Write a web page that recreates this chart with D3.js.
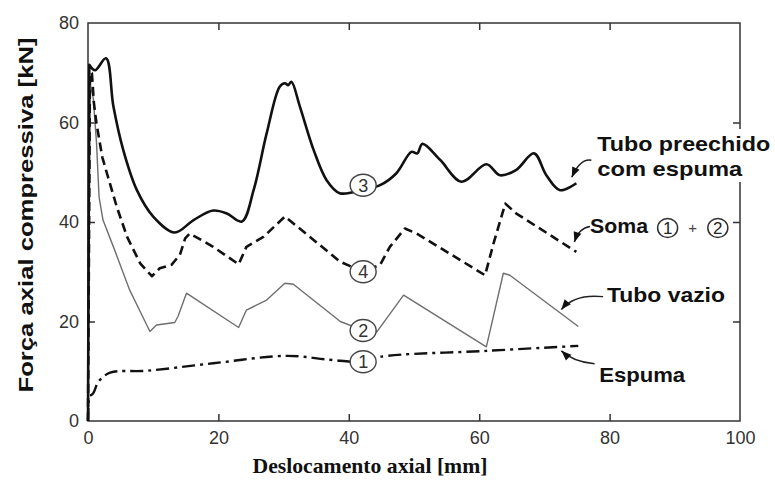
<!DOCTYPE html>
<html>
<head>
<meta charset="utf-8">
<script src="https://cdn.jsdelivr.net/npm/d3@7"></script>
<style>
  body { margin: 0; background: #fff; }
  svg { display: block; }
</style>
</head>
<body>
<svg id="chart" width="775" height="480"></svg>
<script>
// Axis ticks
const xTicks = [0, 20, 40, 60, 80, 100];
const yTicks = [0, 20, 40, 60, 80];

// Force [kN] versus axial displacement [mm]
// (1) foam alone
const espuma = [[0,0],[0.1,4.9],[0.8,5.6],[1.6,7.9],[3.4,9.7],[9,10.1],[19.2,11.6],[30.5,13.1],[37.1,12.3],[42.2,11.9],[44.8,12.9],[61.1,14.1],[75.2,15.1]];
// (2) empty tube
const tuboVazio = [[0,0],[0.3,68],[0.8,65],[1.3,56],[1.7,45],[2.3,40.4],[3.9,35],[6.4,26.3],[8,22],[9.5,18],[10.5,19.3],[13.3,19.8],[13.8,21],[15.1,25.7],[23.1,18.8],[24.3,22.3],[27.4,24.3],[30.2,27.7],[31.5,27.5],[38.7,20],[42.2,18.2],[44.3,17.9],[48.4,25.3],[61.1,14.9],[63.7,29.7],[64.7,29.3],[75.2,19]];
// (3) foam-filled tube
const tuboPreenchido = [[0,0],[0.2,71.6],[1.07,70.5],[2.76,72.9],[3.9,63.2],[5.4,54.5],[7.5,46.4],[10,41.1],[13.3,37.9],[16.2,40.4],[19.2,42.3],[21.3,41.7],[23.6,40.1],[25.4,46.4],[27.4,57.8],[29.4,67.2],[30.2,67.9],[30.7,67.5],[31.2,68.2],[32.5,63.2],[34.6,54.5],[36.6,48.4],[38.6,45.8],[42.2,46.5],[44.8,47.4],[47.3,49.8],[49.6,54.1],[50.5,53.8],[51.3,55.7],[54,52.5],[57.3,48.1],[61.1,51.6],[63.2,49.4],[65.7,50.5],[68.4,53.8],[70.3,49.4],[72.4,46.4],[74.9,47.8]];
// (4) sum (1) + (2)
const soma = [[0,0],[0.3,70],[0.6,69.9],[0.9,64],[1.3,59.8],[2.2,53],[2.9,49.8],[4.4,43.1],[6,37],[8,31.7],[9.8,29.1],[11,30.7],[12.8,31.4],[14.1,33.4],[14.9,36.7],[15.6,37.7],[19.2,35],[23.1,31.5],[24.3,35],[26.9,37],[30.2,41.1],[34.6,36.4],[38.7,32],[42.2,30],[44.8,31.4],[46.3,35],[48.6,38.7],[50.4,37.7],[60.9,29.3],[62.2,35.7],[64,43.7],[65.7,41.7],[74.9,34]];

// Circled curve numbers: [label, x, y]
const curveTags = [["3",42.2,47.4],["4",42.2,30.0],["2",42.2,18.2],["1",42.2,11.9]];

// Callouts: text lines, text anchor point, arrow start / control / tip (data units)
const callouts = [
  { lines: ["Tubo preechido", "com espuma"], at: [78.1, 54.3], len: [173, 145], from: [77.2, 52.4], ctrl: [75.5, 52.8], tip: [74.2, 49.0] },
  { lines: ["Soma"], at: [77.0, 37.8], len: [58], from: [77.0, 39.1], ctrl: [75.3, 38.8], tip: [74.6, 36.0] },
  { lines: ["Tubo vazio"], at: [79.6, 23.9], len: [118], from: [79.0, 25.0], ctrl: [74.6, 25.6], tip: [72.6, 22.4] },
  { lines: ["Espuma"], at: [78.4, 7.8], len: [86], from: [77.7, 11.5], ctrl: [74.4, 11.9], tip: [72.6, 14.1] }
];
// Circled terms after "Soma"
const somaTerms = [["1", 88.9, 38.8], ["2", 96.6, 38.8]];

const svg = d3.select("#chart");
const x = d3.scaleLinear().domain([0, 100]).range([88, 740]);
const y = d3.scaleLinear().domain([0, 80]).range([421, 23]);

const axisColor = "#333";

// Bottom axis with inward ticks
const gx = svg.append("g").attr("transform", `translate(0,${y(0)})`)
  .call(d3.axisBottom(x).tickValues(xTicks).tickSizeInner(-7).tickSizeOuter(0).tickPadding(10));
// Left axis with inward ticks
const gy = svg.append("g").attr("transform", `translate(${x(0)},0)`)
  .call(d3.axisLeft(y).tickValues(yTicks).tickSizeInner(-7).tickSizeOuter(0).tickPadding(9));
// Top and right axes: ticks only
const gt = svg.append("g").attr("transform", `translate(0,${y(80)})`)
  .call(d3.axisTop(x).tickValues(xTicks.slice(1, -1)).tickSizeInner(-7).tickSizeOuter(0).tickFormat(""));
const gr = svg.append("g").attr("transform", `translate(${x(100)},0)`)
  .call(d3.axisRight(y).tickValues(yTicks.slice(1, -1)).tickSizeInner(-7).tickSizeOuter(0).tickFormat(""));

[gx, gy, gt, gr].forEach(g => {
  g.select(".domain").remove();
  g.selectAll(".tick line").attr("stroke", axisColor).attr("stroke-width", 1.5);
  g.selectAll(".tick text").attr("fill", "#333").style("font-family", "Arial, 'Liberation Sans', sans-serif").style("font-size", "18px");
});
// Edge ticks coincide with the frame
gx.selectAll(".tick line").filter(d => d === 0 || d === 100).remove();
gy.selectAll(".tick line").filter(d => d === 0 || d === 80).remove();

// Frame
svg.append("rect")
  .attr("x", x(0)).attr("y", y(80))
  .attr("width", x(100) - x(0)).attr("height", y(0) - y(80))
  .attr("fill", "none").attr("stroke", axisColor).attr("stroke-width", 1.5);

// Curves: the initial load rise is a straight segment, the rest follows the curve type
const lineSmooth = d3.line().x(d => x(d[0])).y(d => y(d[1])).curve(d3.curveCatmullRom.alpha(0.5));
const lineStraight = d3.line().x(d => x(d[0])).y(d => y(d[1]));
function withRise(data, gen) {
  const rest = gen(data.slice(1));
  return `M${x(data[0][0])},${y(data[0][1])}L` + rest.slice(1);
}

svg.append("path").attr("d", withRise(tuboVazio, lineStraight))
  .attr("fill", "none").attr("stroke", "#6e6e6e").attr("stroke-width", 1.4).attr("stroke-linejoin", "round");
svg.append("path").attr("d", withRise(espuma, lineSmooth))
  .attr("fill", "none").attr("stroke", "#111").attr("stroke-width", 2.4).attr("stroke-dasharray", "13,5,3,5");
svg.append("path").attr("d", withRise(soma, lineStraight))
  .attr("fill", "none").attr("stroke", "#111").attr("stroke-width", 2.6).attr("stroke-dasharray", "9,5").attr("stroke-linejoin", "round");
svg.append("path").attr("d", withRise(tuboPreenchido, lineSmooth))
  .attr("fill", "none").attr("stroke", "#111").attr("stroke-width", 2.6).attr("stroke-linejoin", "round");

// Circled curve numbers
const tagFont = "Arial, 'Liberation Sans', sans-serif";
const tags = svg.append("g").selectAll("g").data(curveTags).join("g")
  .attr("transform", d => `translate(${x(d[1])},${y(d[2])})`);
tags.append("ellipse").attr("rx", 13).attr("ry", 11)
  .attr("fill", "#fff").attr("stroke", "#444").attr("stroke-width", 1.4);
tags.append("text").text(d => d[0]).attr("text-anchor", "middle").attr("dy", "0.36em")
  .attr("fill", "#333").style("font-family", tagFont).style("font-size", "18px");

// Callouts
const labelFont = "Arial, 'Liberation Sans', Helvetica, sans-serif";
// keep the long label clear of the frame behind it
svg.append("rect").attr("x", 594).attr("y", 129).attr("width", 181).attr("height", 53).attr("fill", "#fff");

callouts.forEach(c => {
  c.lines.forEach((t, i) => {
    svg.append("text").text(t)
      .attr("x", x(c.at[0])).attr("y", y(c.at[1]) + i * 25)
      .attr("textLength", c.len[i]).attr("lengthAdjust", "spacingAndGlyphs")
      .attr("fill", "#111").style("font-family", labelFont).style("font-weight", "bold").style("font-size", "21px");
  });
  const p0 = [x(c.from[0]), y(c.from[1])], pc = [x(c.ctrl[0]), y(c.ctrl[1])], p1 = [x(c.tip[0]), y(c.tip[1])];
  const path = d3.path();
  path.moveTo(p0[0], p0[1]);
  path.quadraticCurveTo(pc[0], pc[1], p1[0], p1[1]);
  svg.append("path").attr("d", path.toString())
    .attr("fill", "none").attr("stroke", "#222").attr("stroke-width", 1.5);
  // arrowhead along the end tangent
  const ang = Math.atan2(p1[1] - pc[1], p1[0] - pc[0]);
  const L = 10, W = 4;
  const bx = p1[0] - L * Math.cos(ang), by = p1[1] - L * Math.sin(ang);
  const nx = -Math.sin(ang) * W, ny = Math.cos(ang) * W;
  svg.append("path")
    .attr("d", `M${p1[0]},${p1[1]}L${bx + nx},${by + ny}L${bx - nx},${by - ny}Z`)
    .attr("fill", "#111");
});

// "Soma (1) + (2)"
const terms = svg.append("g").selectAll("g").data(somaTerms).join("g")
  .attr("transform", d => `translate(${x(d[1])},${y(d[2])})`);
terms.append("ellipse").attr("rx", 10).attr("ry", 9.5)
  .attr("fill", "#fff").attr("stroke", "#333").attr("stroke-width", 1.5);
terms.append("text").text(d => d[0]).attr("text-anchor", "middle").attr("dy", "0.36em")
  .attr("fill", "#222").style("font-family", tagFont).style("font-size", "17px");
svg.append("text").text("+")
  .attr("x", (x(somaTerms[0][1]) + x(somaTerms[1][1])) / 2).attr("y", y(somaTerms[0][2]))
  .attr("dy", "0.36em").attr("text-anchor", "middle")
  .attr("fill", "#444").style("font-family", tagFont).style("font-size", "15px");

// Axis titles
svg.append("text").text("Deslocamento axial [mm]")
  .attr("x", 370).attr("y", 473).attr("text-anchor", "middle")
  .attr("textLength", 235).attr("lengthAdjust", "spacingAndGlyphs")
  .attr("fill", "#111").style("font-family", "'Liberation Serif', 'Times New Roman', serif")
  .style("font-weight", "bold").style("font-size", "21px");
svg.append("text").text("Força axial compressiva [kN]")
  .attr("transform", "translate(33,215) rotate(-90)").attr("text-anchor", "middle")
  .attr("textLength", 355).attr("lengthAdjust", "spacingAndGlyphs")
  .attr("fill", "#111").style("font-family", labelFont)
  .style("font-weight", "bold").style("font-size", "21px");
</script>
</body>
</html>
